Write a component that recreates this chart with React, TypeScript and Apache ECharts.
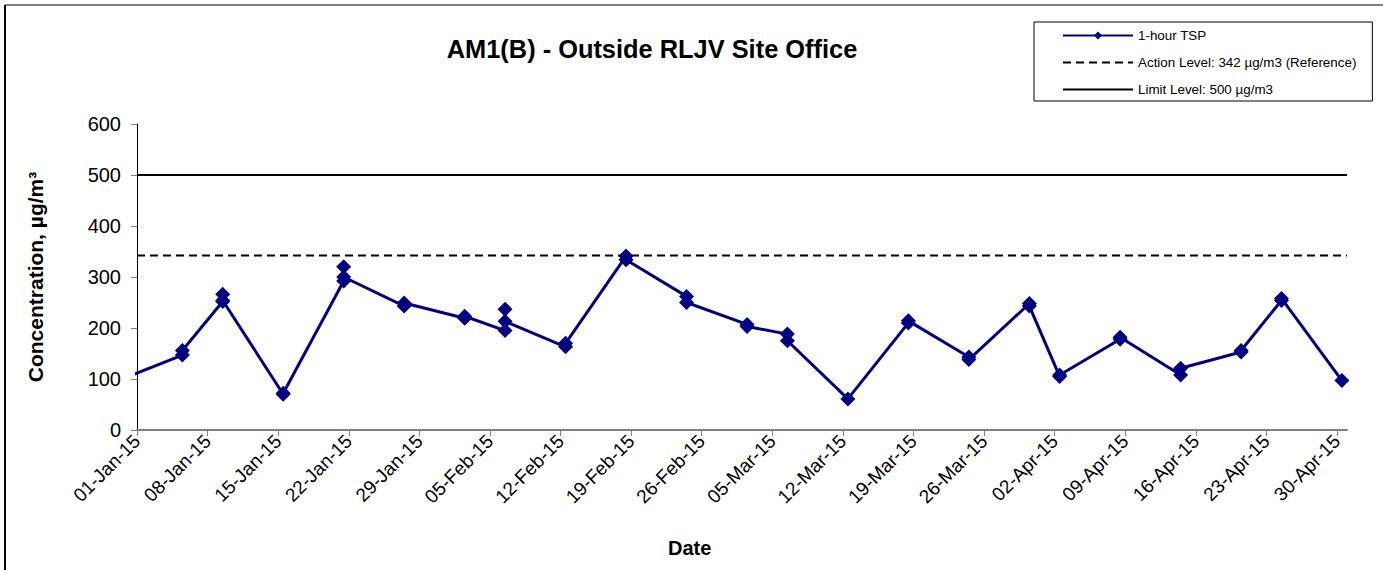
import React, { useEffect, useRef } from "react";
import * as echarts from "echarts";

const TITLE = "AM1(B) - Outside RLJV Site Office";
const AXIS_START = "2015-01-01";
const AXIS_END = "2015-05-01";
const ACTION_LEVEL = 342;
const LIMIT_LEVEL = 500;

const sampleTimes = [
  "2014-12-30T12:00", "2015-01-05T12:00", "2015-01-09T12:00", "2015-01-15T12:00",
  "2015-01-21T12:00", "2015-01-27T12:00", "2015-02-02T12:00", "2015-02-06T12:00",
  "2015-02-12T12:00", "2015-02-18T12:00", "2015-02-24T12:00", "2015-03-02T12:00",
  "2015-03-06T12:00", "2015-03-12T12:00", "2015-03-18T12:00", "2015-03-24T12:00",
  "2015-03-30T12:00", "2015-04-02T12:00", "2015-04-08T12:00", "2015-04-14T12:00",
  "2015-04-20T12:00", "2015-04-24T12:00", "2015-04-30T12:00",
];
const sampleValues: number[][] = [
  [100], [147, 156], [252, 266, 254], [70, 72],
  [292, 320, 300], [243, 249], [219, 223], [195, 237, 213],
  [163, 170], [341, 334], [262, 250], [207, 203],
  [188, 175], [61], [210, 214], [143, 138],
  [248, 243], [105, 108], [178, 182], [108, 121],
  [153, 156], [254, 258], [97],
];
const tickLabels = [
  "01-Jan-15", "08-Jan-15", "15-Jan-15", "22-Jan-15", "29-Jan-15", "05-Feb-15",
  "12-Feb-15", "19-Feb-15", "26-Feb-15", "05-Mar-15", "12-Mar-15", "19-Mar-15",
  "26-Mar-15", "02-Apr-15", "09-Apr-15", "16-Apr-15", "23-Apr-15", "30-Apr-15",
];
const yTicks = [0, 100, 200, 300, 400, 500, 600];

const DAY = 86400000;
const MONTHS = ["Jan","Feb","Mar","Apr","May","Jun","Jul","Aug","Sep","Oct","Nov","Dec"];
const t0 = Date.parse(AXIS_START + "T00:00Z");
const toDays = (s: string) => (Date.parse((s.length === 10 ? s + "T00:00" : s) + "Z") - t0) / DAY;
const labelToDays = (l: string) => {
  const [d, m, y] = l.split("-");
  return (Date.UTC(2000 + Number(y), MONTHS.indexOf(m), Number(d)) - t0) / DAY;
};

const FONT = "'Liberation Sans', Arial, sans-serif";

export default function App() {
  const ref = useRef<HTMLDivElement>(null);
  useEffect(() => {
    if (!ref.current) return;
    const chart = echarts.init(ref.current, undefined, { renderer: "svg" });
    const xMin = 0;
    const xMax = toDays(AXIS_END);
    const tsp: number[][] = [];
    sampleTimes.forEach((t, i) => sampleValues[i].forEach((v) => tsp.push([toDays(t), v])));
    const tickDays = tickLabels.map(labelToDays);
    const labelMap: Record<number, string> = {};
    tickLabels.forEach((l, i) => (labelMap[tickDays[i]] = l));

    chart.setOption({
      animation: false,
      backgroundColor: "#ffffff",
      textStyle: { fontFamily: FONT },
      title: {
        text: TITLE,
        left: 647,
        top: 31,
        textAlign: "center",
        textStyle: { fontFamily: FONT, fontSize: 25.4, fontWeight: "bold", color: "#000" },
      },
      legend: {
        left: 1034,
        top: 22,
        orient: "vertical",
        itemWidth: 70,
        itemHeight: 10,
        itemGap: 14,
        padding: [7, 16, 5, 28],
        borderColor: "#000",
        borderWidth: 1,
        textStyle: { fontFamily: FONT, fontSize: 13.4, color: "#000" },
        data: [
          "1-hour TSP",
          "Action Level: 342 µg/m3 (Reference)",
          "Limit Level: 500 µg/m3",
        ],
      },
      grid: { left: 137, right: 36, top: 124, bottom: 140 },
      xAxis: {
        type: "value",
        min: xMin,
        max: xMax,
        axisLine: { lineStyle: { color: "#808080", width: 2 } },
        axisTick: { customValues: tickDays, length: 6, lineStyle: { color: "#808080", width: 1 } },
        splitLine: { show: false },
        axisLabel: {
          customValues: tickDays,
          rotate: 45,
          fontSize: 19,
          color: "#000",
          fontFamily: FONT,
          margin: 8,
          formatter: (v: number) => labelMap[v] ?? "",
        },
      },
      yAxis: {
        type: "value",
        min: 0,
        max: 600,
        interval: 100,
        name: "Concentration, µg/m³",
        nameLocation: "middle",
        nameGap: 91,
        nameTextStyle: { fontFamily: FONT, fontSize: 21, fontWeight: "bold", color: "#000" },
        axisLine: { show: true, lineStyle: { color: "#000", width: 1 } },
        axisTick: { show: true, length: 6, lineStyle: { color: "#808080" } },
        splitLine: { show: false },
        axisLabel: {
          fontSize: 20,
          color: "#000",
          fontFamily: FONT,
          margin: 16,
          customValues: yTicks,
        },
      },
      graphic: [
        { type: "line", shape: { x1: 5, y1: 5, x2: 1383, y2: 5 }, style: { stroke: "#808080", lineWidth: 2 } },
        { type: "line", shape: { x1: 5, y1: 5, x2: 5, y2: 570 }, style: { stroke: "#000", lineWidth: 2 } },
        {
          type: "text",
          left: 668,
          top: 538,
          style: { text: "Date", fontFamily: FONT, fontSize: 20, fontWeight: "bold", fill: "#000" },
        },
      ],
      series: [
        {
          name: "Limit Level: 500 µg/m3",
          type: "line",
          data: [[xMin, LIMIT_LEVEL], [xMax, LIMIT_LEVEL]],
          symbol: "none",
          lineStyle: { color: "#000", width: 2, type: "solid" },
          itemStyle: { color: "#000", opacity: 0 },
          z: 2,
        },
        {
          name: "Action Level: 342 µg/m3 (Reference)",
          type: "line",
          data: [[xMin, ACTION_LEVEL], [xMax, ACTION_LEVEL]],
          symbol: "none",
          lineStyle: { color: "#000", width: 2, type: [8, 5] },
          itemStyle: { color: "#000", opacity: 0 },
          z: 2,
        },
        {
          name: "1-hour TSP",
          type: "line",
          data: tsp,
          clip: true,
          symbol: "diamond",
          symbolSize: 15,
          lineStyle: { color: "#000080", width: 3 },
          itemStyle: { color: "#000080" },
          z: 3,
        },
      ],
    });
    return () => chart.dispose();
  }, []);
  return (
    <div
      ref={ref}
      style={{ position: "fixed", left: 0, top: 0, width: 1383, height: 570, background: "#fff" }}
    />
  );
}
